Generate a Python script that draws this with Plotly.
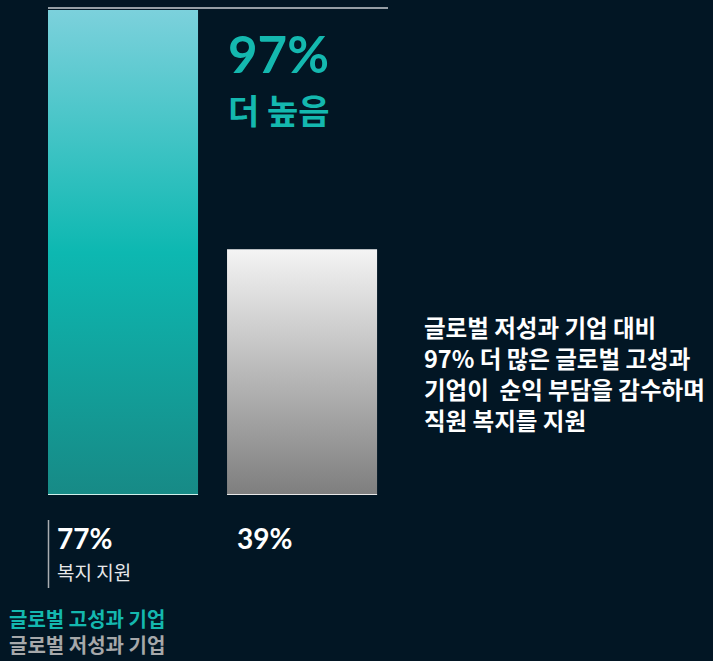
import plotly.graph_objects as go

# ---- data ----
categories = ["글로벌 고성과 기업", "글로벌 저성과 기업"]
values = [77, 39]
value_labels = ["77%", "39%"]
metric_label = "복지 지원"
diff_value = "97%"
diff_label = "더 높음"
note_lines = ["글로벌 저성과 기업 대비", "97% 더 많은 글로벌 고성과", "기업이  순익 부담을 감수하며", "직원 복지를 지원"]

# ---- styling ----
BG = "#021624"
TEAL = "#14B8AF"
KR = "Noto Sans CJK KR"
LAT = "Lato"
scales = [
    [[0, "#178A86"], [0.5, "#0DB8B1"], [1, "#7CD1DC"]],
    [[0, "#7E7E7E"], [1, "#F4F4F4"]],
]
base_colors = ["#CFEFEA", "#E8E8E8"]
legend_colors = [TEAL, "#A6A8AA"]

W, H = 713, 661
L, R, T, B = 48, 388, 8, 495
half = 0.419
xr = [-half, 1.48]
yr = [0, 77.3]

def px(x):
    return (x - L) / (R - L)

def py(y):
    return (B - y) / (B - T)

fig = go.Figure()
for i, v in enumerate(values):
    x0, x1 = i - half, i + half
    fig.add_trace(go.Scatter(
        x=[x0, x1, x1, x0, x0], y=[0, 0, v, v, 0],
        mode="lines", line=dict(width=0), fill="toself",
        fillgradient=dict(type="vertical", colorscale=scales[i], start=0, stop=v),
        hoverinfo="skip", showlegend=False,
    ))
    fig.add_trace(go.Scatter(
        x=[x0, x1], y=[0, 0], mode="lines",
        line=dict(color=base_colors[i], width=2),
        hoverinfo="skip", showlegend=False,
    ))

shapes = [
    dict(type="line", xref="paper", yref="paper", x0=0, x1=1, y0=py(8), y1=py(8),
         line=dict(color="#C9CDD0", width=1.5)),
    dict(type="line", xref="paper", yref="paper", x0=px(48.5), x1=px(48.5), y0=py(520), y1=py(588),
         line=dict(color="#A9ADB0", width=1.5)),
]

ann = []
def add(text, x, y, size, color, family, xanchor="left", yanchor="middle"):
    ann.append(dict(text=text, x=px(x), y=py(y), xref="paper", yref="paper",
                    xanchor=xanchor, yanchor=yanchor, showarrow=False, align="left",
                    font=dict(size=size, color=color, family=family)))

add(f"<b>{diff_value}</b>", 226, 54, 51, TEAL, LAT)
add(f"<b>{diff_label}</b>", 226, 109, 34, TEAL, KR)
for k, line in enumerate(note_lines):
    add(f"<b>{line}</b>", 422, 327 + 31 * k, 23.5, "#FFFFFF", KR)
bar_label_x = [55, 235]
for i, lab in enumerate(value_labels):
    add(f"<b>{lab}</b>", bar_label_x[i], 538, 28, "#FFFFFF", LAT)
add(metric_label, 55, 571, 19, "#E6E8EA", KR)
legend_text = "<br>".join(
    f"<span style='color:{legend_colors[i]}'><b>{c}</b></span>" for i, c in enumerate(categories)
)
add(legend_text, 7, 661, 20, TEAL, KR, yanchor="bottom")

fig.update_layout(
    width=W, height=H,
    margin=dict(l=L, r=W - R, t=T, b=H - B, pad=0),
    paper_bgcolor=BG, plot_bgcolor=BG,
    xaxis=dict(range=xr, visible=False, fixedrange=True),
    yaxis=dict(range=yr, visible=False, fixedrange=True),
    shapes=shapes, annotations=ann, showlegend=False,
)
fig.write_html("out.html", config={"displayModeBar": False})
with open("out.html", encoding="utf-8") as f:
    html = f.read()
html = html.replace("<head>", "<head><style>html,body{margin:0;padding:0;background:%s;}</style>" % BG, 1)
with open("out.html", "w", encoding="utf-8") as f:
    f.write(html)
